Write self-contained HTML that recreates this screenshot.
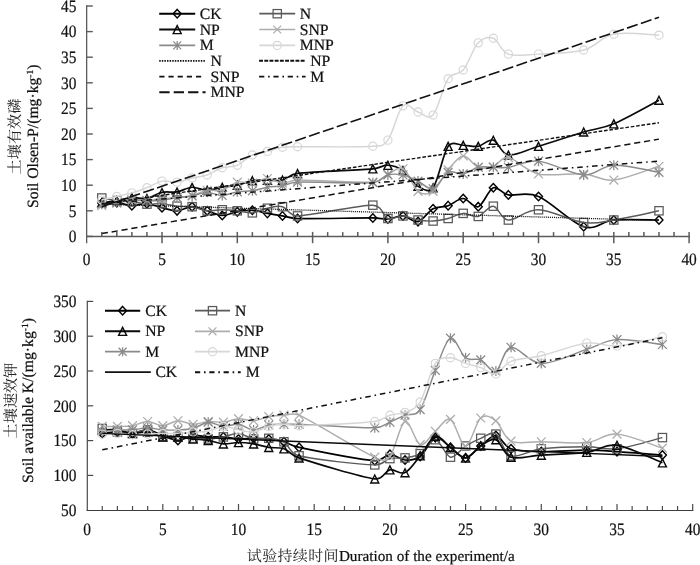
<!DOCTYPE html>
<html lang="zh">
<head>
<meta charset="utf-8">
<title>Soil Olsen-P and available K</title>
<style>
html,body{margin:0;padding:0;background:#fff;}
body{width:700px;height:565px;overflow:hidden;}
svg{display:block;will-change:transform;}
text{font-family:"Liberation Serif","Noto Serif CJK SC",serif;font-size:15.7px;fill:#111;text-rendering:geometricPrecision;stroke:#111;stroke-width:0.22px;}
.cn{font-family:"Noto Serif CJK SC","Liberation Serif",serif;font-size:14.4px;letter-spacing:1px;fill:#222;stroke:none;}
.sup{font-size:9.5px;}
text.tk{font-size:17.4px;}
#titles text{font-size:15.7px;}
#titles text.xt{font-size:15.3px;}
#titles text.cn{font-size:15.2px;letter-spacing:0;}
#titles text.xt{font-size:15.2px;}
#titles text.xt .cn{font-size:15px;letter-spacing:0.35px;}
</style>
</head>
<body>
<svg width="700" height="565" viewBox="0 0 700 565">
<rect width="700" height="565" fill="#fff"/>
<g id="top">
<path d="M101.76 203.12C104.27 203.03 111.8 202.18 116.82 202.61C121.84 203.03 126.86 205.51 131.88 205.68C136.9 205.85 141.92 203.29 146.94 203.63C151.96 203.97 156.98 206.53 162 207.73C167.02 208.92 172.04 210.97 177.06 210.8C182.08 210.63 187.1 206.7 192.12 206.7C197.14 206.7 202.16 209.35 207.18 210.8C212.2 212.25 217.22 215.24 222.24 215.41C227.26 215.58 232.28 212.68 237.3 211.82C242.32 210.97 247.34 210.03 252.36 210.29C257.38 210.54 262.4 212.42 267.42 213.36C272.44 214.3 277.46 215.07 282.48 215.92C287.5 216.77 289.9 218.31 297.54 218.48C312.6 218.82 357.78 217.88 372.84 217.97C380.39 218.01 382.88 219.33 387.9 218.99C392.92 218.65 397.94 215.49 402.96 215.92C407.98 216.35 413 222.75 418.02 221.55C423.04 220.36 428.06 211.4 433.08 208.75C438.1 206.11 443.12 207.39 448.14 205.68C453.16 203.97 458.18 198.34 463.2 198.51C468.22 198.68 473.24 208.5 478.26 206.7C483.28 204.91 488.3 189.72 493.32 187.76C498.34 185.8 500.85 193.48 508.38 194.93C515.91 196.38 525.95 191.17 538.5 196.46C551.05 201.75 571.13 222.75 583.68 226.67C596.23 230.6 601.25 221.13 613.8 220.02C626.35 218.91 651.45 220.02 658.98 220.02" fill="none" stroke="#000000" stroke-width="1.7" stroke-linejoin="round"/>
<path d="M101.76 198.82L105.76 203.12L101.76 207.42L97.76 203.12Z" fill="none" stroke="#000000" stroke-width="1.4"/>
<path d="M116.82 198.31L120.82 202.61L116.82 206.91L112.82 202.61Z" fill="none" stroke="#000000" stroke-width="1.4"/>
<path d="M131.88 201.38L135.88 205.68L131.88 209.98L127.88 205.68Z" fill="none" stroke="#000000" stroke-width="1.4"/>
<path d="M146.94 199.33L150.94 203.63L146.94 207.93L142.94 203.63Z" fill="none" stroke="#000000" stroke-width="1.4"/>
<path d="M162 203.43L166 207.73L162 212.03L158 207.73Z" fill="none" stroke="#000000" stroke-width="1.4"/>
<path d="M177.06 206.5L181.06 210.8L177.06 215.1L173.06 210.8Z" fill="none" stroke="#000000" stroke-width="1.4"/>
<path d="M192.12 202.4L196.12 206.7L192.12 211L188.12 206.7Z" fill="none" stroke="#000000" stroke-width="1.4"/>
<path d="M207.18 206.5L211.18 210.8L207.18 215.1L203.18 210.8Z" fill="none" stroke="#000000" stroke-width="1.4"/>
<path d="M222.24 211.11L226.24 215.41L222.24 219.71L218.24 215.41Z" fill="none" stroke="#000000" stroke-width="1.4"/>
<path d="M237.3 207.52L241.3 211.82L237.3 216.12L233.3 211.82Z" fill="none" stroke="#000000" stroke-width="1.4"/>
<path d="M252.36 205.99L256.36 210.29L252.36 214.59L248.36 210.29Z" fill="none" stroke="#000000" stroke-width="1.4"/>
<path d="M267.42 209.06L271.42 213.36L267.42 217.66L263.42 213.36Z" fill="none" stroke="#000000" stroke-width="1.4"/>
<path d="M282.48 211.62L286.48 215.92L282.48 220.22L278.48 215.92Z" fill="none" stroke="#000000" stroke-width="1.4"/>
<path d="M297.54 214.18L301.54 218.48L297.54 222.78L293.54 218.48Z" fill="none" stroke="#000000" stroke-width="1.4"/>
<path d="M372.84 213.67L376.84 217.97L372.84 222.27L368.84 217.97Z" fill="none" stroke="#000000" stroke-width="1.4"/>
<path d="M387.9 214.69L391.9 218.99L387.9 223.29L383.9 218.99Z" fill="none" stroke="#000000" stroke-width="1.4"/>
<path d="M402.96 211.62L406.96 215.92L402.96 220.22L398.96 215.92Z" fill="none" stroke="#000000" stroke-width="1.4"/>
<path d="M418.02 217.25L422.02 221.55L418.02 225.85L414.02 221.55Z" fill="none" stroke="#000000" stroke-width="1.4"/>
<path d="M433.08 204.45L437.08 208.75L433.08 213.05L429.08 208.75Z" fill="none" stroke="#000000" stroke-width="1.4"/>
<path d="M448.14 201.38L452.14 205.68L448.14 209.98L444.14 205.68Z" fill="none" stroke="#000000" stroke-width="1.4"/>
<path d="M463.2 194.21L467.2 198.51L463.2 202.81L459.2 198.51Z" fill="none" stroke="#000000" stroke-width="1.4"/>
<path d="M478.26 202.4L482.26 206.7L478.26 211L474.26 206.7Z" fill="none" stroke="#000000" stroke-width="1.4"/>
<path d="M493.32 183.46L497.32 187.76L493.32 192.06L489.32 187.76Z" fill="none" stroke="#000000" stroke-width="1.4"/>
<path d="M508.38 190.63L512.38 194.93L508.38 199.23L504.38 194.93Z" fill="none" stroke="#000000" stroke-width="1.4"/>
<path d="M538.5 192.16L542.5 196.46L538.5 200.76L534.5 196.46Z" fill="none" stroke="#000000" stroke-width="1.4"/>
<path d="M583.68 222.37L587.68 226.67L583.68 230.97L579.68 226.67Z" fill="none" stroke="#000000" stroke-width="1.4"/>
<path d="M613.8 215.72L617.8 220.02L613.8 224.32L609.8 220.02Z" fill="none" stroke="#000000" stroke-width="1.4"/>
<path d="M658.98 215.72L662.98 220.02L658.98 224.32L654.98 220.02Z" fill="none" stroke="#000000" stroke-width="1.4"/>
<path d="M101.76 198C104.27 198.43 111.8 199.96 116.82 200.56C121.84 201.16 126.86 200.99 131.88 201.58C136.9 202.18 141.92 203.8 146.94 204.14C151.96 204.49 156.98 203.29 162 203.63C167.02 203.97 172.04 205.68 177.06 206.19C182.08 206.7 187.1 205.94 192.12 206.7C197.14 207.47 202.16 210.29 207.18 210.8C212.2 211.31 217.22 209.78 222.24 209.78C227.26 209.78 232.28 210.29 237.3 210.8C242.32 211.31 247.34 213.27 252.36 212.85C257.38 212.42 262.4 209.26 267.42 208.24C272.44 207.22 277.46 205.42 282.48 206.7C287.5 207.98 288.8 216.07 297.54 215.92C312.6 215.66 357.78 204.74 372.84 205.17C382.79 205.45 382.88 216.69 387.9 218.48C392.92 220.27 397.94 215.66 402.96 215.92C407.98 216.18 413 219.16 418.02 220.02C423.04 220.87 428.06 221.3 433.08 221.04C438.1 220.78 443.12 219.76 448.14 218.48C453.16 217.2 458.18 213.7 463.2 213.36C468.22 213.02 473.24 217.63 478.26 216.43C483.28 215.24 488.3 205.59 493.32 206.19C498.34 206.79 500.85 219.42 508.38 220.02C515.91 220.61 525.95 209.35 538.5 209.78C551.05 210.2 571.13 220.87 583.68 222.58C596.23 224.28 601.25 221.98 613.8 220.02C626.35 218.05 651.45 212.34 658.98 210.8" fill="none" stroke="#5a5a5a" stroke-width="1.45" stroke-linejoin="round"/>
<rect x="97.61" y="193.85" width="8.3" height="8.3" fill="none" stroke="#5a5a5a" stroke-width="1.25"/>
<rect x="112.67" y="196.41" width="8.3" height="8.3" fill="none" stroke="#5a5a5a" stroke-width="1.25"/>
<rect x="127.73" y="197.43" width="8.3" height="8.3" fill="none" stroke="#5a5a5a" stroke-width="1.25"/>
<rect x="142.79" y="199.99" width="8.3" height="8.3" fill="none" stroke="#5a5a5a" stroke-width="1.25"/>
<rect x="157.85" y="199.48" width="8.3" height="8.3" fill="none" stroke="#5a5a5a" stroke-width="1.25"/>
<rect x="172.91" y="202.04" width="8.3" height="8.3" fill="none" stroke="#5a5a5a" stroke-width="1.25"/>
<rect x="187.97" y="202.55" width="8.3" height="8.3" fill="none" stroke="#5a5a5a" stroke-width="1.25"/>
<rect x="203.03" y="206.65" width="8.3" height="8.3" fill="none" stroke="#5a5a5a" stroke-width="1.25"/>
<rect x="218.09" y="205.63" width="8.3" height="8.3" fill="none" stroke="#5a5a5a" stroke-width="1.25"/>
<rect x="233.15" y="206.65" width="8.3" height="8.3" fill="none" stroke="#5a5a5a" stroke-width="1.25"/>
<rect x="248.21" y="208.7" width="8.3" height="8.3" fill="none" stroke="#5a5a5a" stroke-width="1.25"/>
<rect x="263.27" y="204.09" width="8.3" height="8.3" fill="none" stroke="#5a5a5a" stroke-width="1.25"/>
<rect x="278.33" y="202.55" width="8.3" height="8.3" fill="none" stroke="#5a5a5a" stroke-width="1.25"/>
<rect x="293.39" y="211.77" width="8.3" height="8.3" fill="none" stroke="#5a5a5a" stroke-width="1.25"/>
<rect x="368.69" y="201.02" width="8.3" height="8.3" fill="none" stroke="#5a5a5a" stroke-width="1.25"/>
<rect x="383.75" y="214.33" width="8.3" height="8.3" fill="none" stroke="#5a5a5a" stroke-width="1.25"/>
<rect x="398.81" y="211.77" width="8.3" height="8.3" fill="none" stroke="#5a5a5a" stroke-width="1.25"/>
<rect x="413.87" y="215.87" width="8.3" height="8.3" fill="none" stroke="#5a5a5a" stroke-width="1.25"/>
<rect x="428.93" y="216.89" width="8.3" height="8.3" fill="none" stroke="#5a5a5a" stroke-width="1.25"/>
<rect x="443.99" y="214.33" width="8.3" height="8.3" fill="none" stroke="#5a5a5a" stroke-width="1.25"/>
<rect x="459.05" y="209.21" width="8.3" height="8.3" fill="none" stroke="#5a5a5a" stroke-width="1.25"/>
<rect x="474.11" y="212.28" width="8.3" height="8.3" fill="none" stroke="#5a5a5a" stroke-width="1.25"/>
<rect x="489.17" y="202.04" width="8.3" height="8.3" fill="none" stroke="#5a5a5a" stroke-width="1.25"/>
<rect x="504.23" y="215.87" width="8.3" height="8.3" fill="none" stroke="#5a5a5a" stroke-width="1.25"/>
<rect x="534.35" y="205.63" width="8.3" height="8.3" fill="none" stroke="#5a5a5a" stroke-width="1.25"/>
<rect x="579.53" y="218.43" width="8.3" height="8.3" fill="none" stroke="#5a5a5a" stroke-width="1.25"/>
<rect x="609.65" y="215.87" width="8.3" height="8.3" fill="none" stroke="#5a5a5a" stroke-width="1.25"/>
<rect x="654.83" y="206.65" width="8.3" height="8.3" fill="none" stroke="#5a5a5a" stroke-width="1.25"/>
<path d="M101.76 202.61C104.27 202.27 111.8 201.41 116.82 200.56C121.84 199.71 126.86 197.83 131.88 197.49C136.9 197.15 141.92 199.37 146.94 198.51C151.96 197.66 156.98 193.48 162 192.37C167.02 191.26 172.04 192.71 177.06 191.86C182.08 191 187.1 187.5 192.12 187.25C197.14 186.99 202.16 190.32 207.18 190.32C212.2 190.32 217.22 188.1 222.24 187.25C227.26 186.39 232.28 186.31 237.3 185.2C242.32 184.09 247.34 181.45 252.36 180.59C257.38 179.74 262.4 180.17 267.42 180.08C272.44 179.99 277.46 181.19 282.48 180.08C287.5 178.97 289.32 174.45 297.54 173.42C312.6 171.55 357.78 170.18 372.84 168.82C380.57 168.12 382.88 164.98 387.9 165.23C392.92 165.49 397.94 166.85 402.96 170.35C407.98 173.85 413 183.32 418.02 186.22C423.04 189.13 428.77 193.47 433.08 187.76C438.1 181.1 443.12 153.37 448.14 146.29C452.43 140.23 458.18 145.26 463.2 145.26C468.22 145.26 473.24 147.14 478.26 146.29C483.28 145.43 488.3 138.69 493.32 140.14C498.34 141.59 500.85 153.97 508.38 154.99C515.91 156.02 525.95 150.13 538.5 146.29C551.05 142.45 571.13 135.71 583.68 131.95C596.23 128.2 601.25 129.05 613.8 123.76C626.35 118.47 651.45 104.13 658.98 100.21" fill="none" stroke="#0a0a0a" stroke-width="1.7" stroke-linejoin="round"/>
<path d="M101.76 198.71L105.76 206.71L97.76 206.71Z" fill="none" stroke="#0a0a0a" stroke-width="1.4"/>
<path d="M116.82 196.66L120.82 204.66L112.82 204.66Z" fill="none" stroke="#0a0a0a" stroke-width="1.4"/>
<path d="M131.88 193.59L135.88 201.59L127.88 201.59Z" fill="none" stroke="#0a0a0a" stroke-width="1.4"/>
<path d="M146.94 194.61L150.94 202.61L142.94 202.61Z" fill="none" stroke="#0a0a0a" stroke-width="1.4"/>
<path d="M162 188.47L166 196.47L158 196.47Z" fill="none" stroke="#0a0a0a" stroke-width="1.4"/>
<path d="M177.06 187.96L181.06 195.96L173.06 195.96Z" fill="none" stroke="#0a0a0a" stroke-width="1.4"/>
<path d="M192.12 183.35L196.12 191.35L188.12 191.35Z" fill="none" stroke="#0a0a0a" stroke-width="1.4"/>
<path d="M207.18 186.42L211.18 194.42L203.18 194.42Z" fill="none" stroke="#0a0a0a" stroke-width="1.4"/>
<path d="M222.24 183.35L226.24 191.35L218.24 191.35Z" fill="none" stroke="#0a0a0a" stroke-width="1.4"/>
<path d="M237.3 181.3L241.3 189.3L233.3 189.3Z" fill="none" stroke="#0a0a0a" stroke-width="1.4"/>
<path d="M252.36 176.69L256.36 184.69L248.36 184.69Z" fill="none" stroke="#0a0a0a" stroke-width="1.4"/>
<path d="M267.42 176.18L271.42 184.18L263.42 184.18Z" fill="none" stroke="#0a0a0a" stroke-width="1.4"/>
<path d="M282.48 176.18L286.48 184.18L278.48 184.18Z" fill="none" stroke="#0a0a0a" stroke-width="1.4"/>
<path d="M297.54 169.52L301.54 177.52L293.54 177.52Z" fill="none" stroke="#0a0a0a" stroke-width="1.4"/>
<path d="M372.84 164.92L376.84 172.92L368.84 172.92Z" fill="none" stroke="#0a0a0a" stroke-width="1.4"/>
<path d="M387.9 161.33L391.9 169.33L383.9 169.33Z" fill="none" stroke="#0a0a0a" stroke-width="1.4"/>
<path d="M402.96 166.45L406.96 174.45L398.96 174.45Z" fill="none" stroke="#0a0a0a" stroke-width="1.4"/>
<path d="M418.02 182.32L422.02 190.32L414.02 190.32Z" fill="none" stroke="#0a0a0a" stroke-width="1.4"/>
<path d="M433.08 183.86L437.08 191.86L429.08 191.86Z" fill="none" stroke="#0a0a0a" stroke-width="1.4"/>
<path d="M448.14 142.39L452.14 150.39L444.14 150.39Z" fill="none" stroke="#0a0a0a" stroke-width="1.4"/>
<path d="M463.2 141.36L467.2 149.36L459.2 149.36Z" fill="none" stroke="#0a0a0a" stroke-width="1.4"/>
<path d="M478.26 142.39L482.26 150.39L474.26 150.39Z" fill="none" stroke="#0a0a0a" stroke-width="1.4"/>
<path d="M493.32 136.24L497.32 144.24L489.32 144.24Z" fill="none" stroke="#0a0a0a" stroke-width="1.4"/>
<path d="M508.38 151.09L512.38 159.09L504.38 159.09Z" fill="none" stroke="#0a0a0a" stroke-width="1.4"/>
<path d="M538.5 142.39L542.5 150.39L534.5 150.39Z" fill="none" stroke="#0a0a0a" stroke-width="1.4"/>
<path d="M583.68 128.05L587.68 136.05L579.68 136.05Z" fill="none" stroke="#0a0a0a" stroke-width="1.4"/>
<path d="M613.8 119.86L617.8 127.86L609.8 127.86Z" fill="none" stroke="#0a0a0a" stroke-width="1.4"/>
<path d="M658.98 96.31L662.98 104.31L654.98 104.31Z" fill="none" stroke="#0a0a0a" stroke-width="1.4"/>
<path d="M101.76 205.68C104.27 205.25 111.8 204.14 116.82 203.12C121.84 202.1 126.86 199.96 131.88 199.54C136.9 199.11 141.92 200.73 146.94 200.56C151.96 200.39 156.98 198.94 162 198.51C167.02 198.09 172.04 198.51 177.06 198C182.08 197.49 187.1 196.72 192.12 195.44C197.14 194.16 202.16 191.17 207.18 190.32C212.2 189.47 217.22 191.69 222.24 190.32C227.26 188.95 232.28 183.32 237.3 182.13C242.32 180.93 247.34 183.75 252.36 183.15C257.38 182.55 262.4 178.54 267.42 178.54C272.44 178.54 277.46 182.9 282.48 183.15C287.5 183.41 289.86 180.17 297.54 180.08C312.6 179.91 357.78 183.07 372.84 182.13C381.29 181.6 382.88 176.67 387.9 174.45C392.92 172.23 397.94 166 402.96 168.82C407.98 171.63 413 187.59 418.02 191.34C423.04 195.1 428.06 194.93 433.08 191.34C438.1 187.76 443.12 175.73 448.14 169.84C453.16 163.95 458.18 156.44 463.2 156.02C468.22 155.59 473.24 165.49 478.26 167.28C483.28 169.07 488.3 168.39 493.32 166.77C498.34 165.15 500.85 156.36 508.38 157.55C515.91 158.75 525.95 171.21 538.5 173.94C551.05 176.67 571.13 172.91 583.68 173.94C596.23 174.96 601.25 181.36 613.8 180.08C626.35 178.8 651.45 168.56 658.98 166.26" fill="none" stroke="#adadad" stroke-width="1.45" stroke-linejoin="round"/>
<path d="M97.36 201.28L106.16 210.08M97.36 210.08L106.16 201.28" fill="none" stroke="#adadad" stroke-width="1.25"/>
<path d="M112.42 198.72L121.22 207.52M112.42 207.52L121.22 198.72" fill="none" stroke="#adadad" stroke-width="1.25"/>
<path d="M127.48 195.14L136.28 203.94M127.48 203.94L136.28 195.14" fill="none" stroke="#adadad" stroke-width="1.25"/>
<path d="M142.54 196.16L151.34 204.96M142.54 204.96L151.34 196.16" fill="none" stroke="#adadad" stroke-width="1.25"/>
<path d="M157.6 194.11L166.4 202.91M157.6 202.91L166.4 194.11" fill="none" stroke="#adadad" stroke-width="1.25"/>
<path d="M172.66 193.6L181.46 202.4M172.66 202.4L181.46 193.6" fill="none" stroke="#adadad" stroke-width="1.25"/>
<path d="M187.72 191.04L196.52 199.84M187.72 199.84L196.52 191.04" fill="none" stroke="#adadad" stroke-width="1.25"/>
<path d="M202.78 185.92L211.58 194.72M202.78 194.72L211.58 185.92" fill="none" stroke="#adadad" stroke-width="1.25"/>
<path d="M217.84 185.92L226.64 194.72M217.84 194.72L226.64 185.92" fill="none" stroke="#adadad" stroke-width="1.25"/>
<path d="M232.9 177.73L241.7 186.53M232.9 186.53L241.7 177.73" fill="none" stroke="#adadad" stroke-width="1.25"/>
<path d="M247.96 178.75L256.76 187.55M247.96 187.55L256.76 178.75" fill="none" stroke="#adadad" stroke-width="1.25"/>
<path d="M263.02 174.14L271.82 182.94M263.02 182.94L271.82 174.14" fill="none" stroke="#adadad" stroke-width="1.25"/>
<path d="M278.08 178.75L286.88 187.55M278.08 187.55L286.88 178.75" fill="none" stroke="#adadad" stroke-width="1.25"/>
<path d="M293.14 175.68L301.94 184.48M293.14 184.48L301.94 175.68" fill="none" stroke="#adadad" stroke-width="1.25"/>
<path d="M368.44 177.73L377.24 186.53M368.44 186.53L377.24 177.73" fill="none" stroke="#adadad" stroke-width="1.25"/>
<path d="M383.5 170.05L392.3 178.85M383.5 178.85L392.3 170.05" fill="none" stroke="#adadad" stroke-width="1.25"/>
<path d="M398.56 164.42L407.36 173.22M398.56 173.22L407.36 164.42" fill="none" stroke="#adadad" stroke-width="1.25"/>
<path d="M413.62 186.94L422.42 195.74M413.62 195.74L422.42 186.94" fill="none" stroke="#adadad" stroke-width="1.25"/>
<path d="M428.68 186.94L437.48 195.74M428.68 195.74L437.48 186.94" fill="none" stroke="#adadad" stroke-width="1.25"/>
<path d="M443.74 165.44L452.54 174.24M443.74 174.24L452.54 165.44" fill="none" stroke="#adadad" stroke-width="1.25"/>
<path d="M458.8 151.62L467.6 160.42M458.8 160.42L467.6 151.62" fill="none" stroke="#adadad" stroke-width="1.25"/>
<path d="M473.86 162.88L482.66 171.68M473.86 171.68L482.66 162.88" fill="none" stroke="#adadad" stroke-width="1.25"/>
<path d="M488.92 162.37L497.72 171.17M488.92 171.17L497.72 162.37" fill="none" stroke="#adadad" stroke-width="1.25"/>
<path d="M503.98 153.15L512.78 161.95M503.98 161.95L512.78 153.15" fill="none" stroke="#adadad" stroke-width="1.25"/>
<path d="M534.1 169.54L542.9 178.34M534.1 178.34L542.9 169.54" fill="none" stroke="#adadad" stroke-width="1.25"/>
<path d="M579.28 169.54L588.08 178.34M579.28 178.34L588.08 169.54" fill="none" stroke="#adadad" stroke-width="1.25"/>
<path d="M609.4 175.68L618.2 184.48M609.4 184.48L618.2 175.68" fill="none" stroke="#adadad" stroke-width="1.25"/>
<path d="M654.58 161.86L663.38 170.66M654.58 170.66L663.38 161.86" fill="none" stroke="#adadad" stroke-width="1.25"/>
<path d="M101.76 204.14C104.27 203.89 111.8 203.21 116.82 202.61C121.84 202.01 126.86 200.9 131.88 200.56C136.9 200.22 141.92 200.56 146.94 200.56C151.96 200.56 156.98 201.07 162 200.56C167.02 200.05 172.04 198.26 177.06 197.49C182.08 196.72 187.1 196.81 192.12 195.95C197.14 195.1 202.16 192.45 207.18 192.37C212.2 192.28 217.22 195.53 222.24 195.44C227.26 195.35 232.28 192.62 237.3 191.86C242.32 191.09 247.34 191.6 252.36 190.83C257.38 190.06 262.4 188.1 267.42 187.25C272.44 186.39 277.46 186.57 282.48 185.71C287.5 184.86 289.8 182.39 297.54 182.13C312.6 181.62 357.78 183.83 372.84 182.64C381.29 181.97 382.88 176.24 387.9 174.96C392.92 173.68 397.94 173.94 402.96 174.96C407.98 175.98 413 178.8 418.02 181.1C423.04 183.41 428.06 190.23 433.08 188.78C438.1 187.33 443.12 174.87 448.14 172.4C453.16 169.93 458.18 174.79 463.2 173.94C468.22 173.08 473.24 168.39 478.26 167.28C483.28 166.17 488.3 167.28 493.32 167.28C498.34 167.28 500.85 168.3 508.38 167.28C515.91 166.26 525.95 159.86 538.5 161.14C551.05 162.42 571.13 174.28 583.68 174.96C596.23 175.64 601.25 165.66 613.8 165.23C626.35 164.81 651.45 171.21 658.98 172.4" fill="none" stroke="#8a8a8a" stroke-width="1.45" stroke-linejoin="round"/>
<path d="M97.36 199.74L106.16 208.54M97.36 208.54L106.16 199.74M101.76 199.14L101.76 209.14" fill="none" stroke="#8a8a8a" stroke-width="1.25"/>
<path d="M112.42 198.21L121.22 207.01M112.42 207.01L121.22 198.21M116.82 197.61L116.82 207.61" fill="none" stroke="#8a8a8a" stroke-width="1.25"/>
<path d="M127.48 196.16L136.28 204.96M127.48 204.96L136.28 196.16M131.88 195.56L131.88 205.56" fill="none" stroke="#8a8a8a" stroke-width="1.25"/>
<path d="M142.54 196.16L151.34 204.96M142.54 204.96L151.34 196.16M146.94 195.56L146.94 205.56" fill="none" stroke="#8a8a8a" stroke-width="1.25"/>
<path d="M157.6 196.16L166.4 204.96M157.6 204.96L166.4 196.16M162 195.56L162 205.56" fill="none" stroke="#8a8a8a" stroke-width="1.25"/>
<path d="M172.66 193.09L181.46 201.89M172.66 201.89L181.46 193.09M177.06 192.49L177.06 202.49" fill="none" stroke="#8a8a8a" stroke-width="1.25"/>
<path d="M187.72 191.55L196.52 200.35M187.72 200.35L196.52 191.55M192.12 190.95L192.12 200.95" fill="none" stroke="#8a8a8a" stroke-width="1.25"/>
<path d="M202.78 187.97L211.58 196.77M202.78 196.77L211.58 187.97M207.18 187.37L207.18 197.37" fill="none" stroke="#8a8a8a" stroke-width="1.25"/>
<path d="M217.84 191.04L226.64 199.84M217.84 199.84L226.64 191.04M222.24 190.44L222.24 200.44" fill="none" stroke="#8a8a8a" stroke-width="1.25"/>
<path d="M232.9 187.46L241.7 196.26M232.9 196.26L241.7 187.46M237.3 186.86L237.3 196.86" fill="none" stroke="#8a8a8a" stroke-width="1.25"/>
<path d="M247.96 186.43L256.76 195.23M247.96 195.23L256.76 186.43M252.36 185.83L252.36 195.83" fill="none" stroke="#8a8a8a" stroke-width="1.25"/>
<path d="M263.02 182.85L271.82 191.65M263.02 191.65L271.82 182.85M267.42 182.25L267.42 192.25" fill="none" stroke="#8a8a8a" stroke-width="1.25"/>
<path d="M278.08 181.31L286.88 190.11M278.08 190.11L286.88 181.31M282.48 180.71L282.48 190.71" fill="none" stroke="#8a8a8a" stroke-width="1.25"/>
<path d="M293.14 177.73L301.94 186.53M293.14 186.53L301.94 177.73M297.54 177.13L297.54 187.13" fill="none" stroke="#8a8a8a" stroke-width="1.25"/>
<path d="M368.44 178.24L377.24 187.04M368.44 187.04L377.24 178.24M372.84 177.64L372.84 187.64" fill="none" stroke="#8a8a8a" stroke-width="1.25"/>
<path d="M383.5 170.56L392.3 179.36M383.5 179.36L392.3 170.56M387.9 169.96L387.9 179.96" fill="none" stroke="#8a8a8a" stroke-width="1.25"/>
<path d="M398.56 170.56L407.36 179.36M398.56 179.36L407.36 170.56M402.96 169.96L402.96 179.96" fill="none" stroke="#8a8a8a" stroke-width="1.25"/>
<path d="M413.62 176.7L422.42 185.5M413.62 185.5L422.42 176.7M418.02 176.1L418.02 186.1" fill="none" stroke="#8a8a8a" stroke-width="1.25"/>
<path d="M428.68 184.38L437.48 193.18M428.68 193.18L437.48 184.38M433.08 183.78L433.08 193.78" fill="none" stroke="#8a8a8a" stroke-width="1.25"/>
<path d="M443.74 168L452.54 176.8M443.74 176.8L452.54 168M448.14 167.4L448.14 177.4" fill="none" stroke="#8a8a8a" stroke-width="1.25"/>
<path d="M458.8 169.54L467.6 178.34M458.8 178.34L467.6 169.54M463.2 168.94L463.2 178.94" fill="none" stroke="#8a8a8a" stroke-width="1.25"/>
<path d="M473.86 162.88L482.66 171.68M473.86 171.68L482.66 162.88M478.26 162.28L478.26 172.28" fill="none" stroke="#8a8a8a" stroke-width="1.25"/>
<path d="M488.92 162.88L497.72 171.68M488.92 171.68L497.72 162.88M493.32 162.28L493.32 172.28" fill="none" stroke="#8a8a8a" stroke-width="1.25"/>
<path d="M503.98 162.88L512.78 171.68M503.98 171.68L512.78 162.88M508.38 162.28L508.38 172.28" fill="none" stroke="#8a8a8a" stroke-width="1.25"/>
<path d="M534.1 156.74L542.9 165.54M534.1 165.54L542.9 156.74M538.5 156.14L538.5 166.14" fill="none" stroke="#8a8a8a" stroke-width="1.25"/>
<path d="M579.28 170.56L588.08 179.36M579.28 179.36L588.08 170.56M583.68 169.96L583.68 179.96" fill="none" stroke="#8a8a8a" stroke-width="1.25"/>
<path d="M609.4 160.83L618.2 169.63M609.4 169.63L618.2 160.83M613.8 160.23L613.8 170.23" fill="none" stroke="#8a8a8a" stroke-width="1.25"/>
<path d="M654.58 168L663.38 176.8M654.58 176.8L663.38 168M658.98 167.4L658.98 177.4" fill="none" stroke="#8a8a8a" stroke-width="1.25"/>
<path d="M101.76 200.05C104.27 199.45 111.8 197.66 116.82 196.46C121.84 195.27 126.86 194.33 131.88 192.88C136.9 191.43 141.92 189.72 146.94 187.76C151.96 185.8 156.98 182.04 162 181.1C167.02 180.17 172.04 182.64 177.06 182.13C182.08 181.62 187.1 179.23 192.12 178.03C197.14 176.84 202.16 176.67 207.18 174.96C212.2 173.25 217.22 169.41 222.24 167.79C227.26 166.17 232.28 167.37 237.3 165.23C242.32 163.1 247.34 157.3 252.36 154.99C257.38 152.69 262.4 152.69 267.42 151.41C272.44 150.13 277.46 148.08 282.48 147.31C287.5 146.54 290.01 146.89 297.54 146.8C312.6 146.63 357.78 147.4 372.84 146.29C380.97 145.69 382.88 146.89 387.9 140.14C392.92 133.4 397.94 110.53 402.96 105.84C407.98 101.15 413 110.45 418.02 111.98C423.04 113.52 428.18 120.47 433.08 115.06C438.1 109.51 443.12 86.21 448.14 78.7C453.16 71.19 458.18 75.97 463.2 70C468.22 64.03 473.24 48.15 478.26 42.86C483.28 37.57 488.3 36.38 493.32 38.26C498.34 40.13 500.85 51.48 508.38 54.13C515.91 56.77 525.95 54.81 538.5 54.13C551.05 53.45 571.13 53.36 583.68 50.03C596.23 46.7 601.25 36.63 613.8 34.16C626.35 31.69 651.45 35.01 658.98 35.18" fill="none" stroke="#d6d6d6" stroke-width="1.45" stroke-linejoin="round"/>
<circle cx="101.76" cy="200.05" r="4.1" fill="none" stroke="#d6d6d6" stroke-width="1.15"/>
<circle cx="116.82" cy="196.46" r="4.1" fill="none" stroke="#d6d6d6" stroke-width="1.15"/>
<circle cx="131.88" cy="192.88" r="4.1" fill="none" stroke="#d6d6d6" stroke-width="1.15"/>
<circle cx="146.94" cy="187.76" r="4.1" fill="none" stroke="#d6d6d6" stroke-width="1.15"/>
<circle cx="162" cy="181.1" r="4.1" fill="none" stroke="#d6d6d6" stroke-width="1.15"/>
<circle cx="177.06" cy="182.13" r="4.1" fill="none" stroke="#d6d6d6" stroke-width="1.15"/>
<circle cx="192.12" cy="178.03" r="4.1" fill="none" stroke="#d6d6d6" stroke-width="1.15"/>
<circle cx="207.18" cy="174.96" r="4.1" fill="none" stroke="#d6d6d6" stroke-width="1.15"/>
<circle cx="222.24" cy="167.79" r="4.1" fill="none" stroke="#d6d6d6" stroke-width="1.15"/>
<circle cx="237.3" cy="165.23" r="4.1" fill="none" stroke="#d6d6d6" stroke-width="1.15"/>
<circle cx="252.36" cy="154.99" r="4.1" fill="none" stroke="#d6d6d6" stroke-width="1.15"/>
<circle cx="267.42" cy="151.41" r="4.1" fill="none" stroke="#d6d6d6" stroke-width="1.15"/>
<circle cx="282.48" cy="147.31" r="4.1" fill="none" stroke="#d6d6d6" stroke-width="1.15"/>
<circle cx="297.54" cy="146.8" r="4.1" fill="none" stroke="#d6d6d6" stroke-width="1.15"/>
<circle cx="372.84" cy="146.29" r="4.1" fill="none" stroke="#d6d6d6" stroke-width="1.15"/>
<circle cx="387.9" cy="140.14" r="4.1" fill="none" stroke="#d6d6d6" stroke-width="1.15"/>
<circle cx="402.96" cy="105.84" r="4.1" fill="none" stroke="#d6d6d6" stroke-width="1.15"/>
<circle cx="418.02" cy="111.98" r="4.1" fill="none" stroke="#d6d6d6" stroke-width="1.15"/>
<circle cx="433.08" cy="115.06" r="4.1" fill="none" stroke="#d6d6d6" stroke-width="1.15"/>
<circle cx="448.14" cy="78.7" r="4.1" fill="none" stroke="#d6d6d6" stroke-width="1.15"/>
<circle cx="463.2" cy="70" r="4.1" fill="none" stroke="#d6d6d6" stroke-width="1.15"/>
<circle cx="478.26" cy="42.86" r="4.1" fill="none" stroke="#d6d6d6" stroke-width="1.15"/>
<circle cx="493.32" cy="38.26" r="4.1" fill="none" stroke="#d6d6d6" stroke-width="1.15"/>
<circle cx="508.38" cy="54.13" r="4.1" fill="none" stroke="#d6d6d6" stroke-width="1.15"/>
<circle cx="538.5" cy="54.13" r="4.1" fill="none" stroke="#d6d6d6" stroke-width="1.15"/>
<circle cx="583.68" cy="50.03" r="4.1" fill="none" stroke="#d6d6d6" stroke-width="1.15"/>
<circle cx="613.8" cy="34.16" r="4.1" fill="none" stroke="#d6d6d6" stroke-width="1.15"/>
<circle cx="658.98" cy="35.18" r="4.1" fill="none" stroke="#d6d6d6" stroke-width="1.15"/>
<line x1="101.76" y1="204.14" x2="658.98" y2="220.53" stroke="#111" stroke-width="1.3" stroke-dasharray="1.0 0.95"/>
<line x1="101.76" y1="204.14" x2="658.98" y2="122.74" stroke="#111" stroke-width="1.4" stroke-dasharray="3.6 1.8"/>
<line x1="101.76" y1="233.58" x2="658.98" y2="139.12" stroke="#111" stroke-width="1.5" stroke-dasharray="6.2 3.8"/>
<line x1="101.76" y1="203.63" x2="658.98" y2="161.14" stroke="#111" stroke-width="1.5" stroke-dasharray="5.6 3.9 1.6 3.8"/>
<line x1="101.76" y1="206.7" x2="658.98" y2="17.26" stroke="#111" stroke-width="1.6" stroke-dasharray="11.2 3.4"/>
<line x1="86.65" y1="5.3" x2="86.65" y2="243.3" stroke="#5b5b5b" stroke-width="1.3"/>
<line x1="86" y1="236.4" x2="689.8" y2="236.4" stroke="#5b5b5b" stroke-width="1.5"/>
<line x1="86.65" y1="236.4" x2="92.8" y2="236.4" stroke="#5b5b5b" stroke-width="1.4"/>
<line x1="86.65" y1="210.8" x2="92.8" y2="210.8" stroke="#5b5b5b" stroke-width="1.4"/>
<line x1="86.65" y1="185.2" x2="92.8" y2="185.2" stroke="#5b5b5b" stroke-width="1.4"/>
<line x1="86.65" y1="159.6" x2="92.8" y2="159.6" stroke="#5b5b5b" stroke-width="1.4"/>
<line x1="86.65" y1="134" x2="92.8" y2="134" stroke="#5b5b5b" stroke-width="1.4"/>
<line x1="86.65" y1="108.4" x2="92.8" y2="108.4" stroke="#5b5b5b" stroke-width="1.4"/>
<line x1="86.65" y1="82.8" x2="92.8" y2="82.8" stroke="#5b5b5b" stroke-width="1.4"/>
<line x1="86.65" y1="57.2" x2="92.8" y2="57.2" stroke="#5b5b5b" stroke-width="1.4"/>
<line x1="86.65" y1="31.6" x2="92.8" y2="31.6" stroke="#5b5b5b" stroke-width="1.4"/>
<line x1="86.65" y1="6" x2="92.8" y2="6" stroke="#5b5b5b" stroke-width="1.4"/>
<line x1="101.76" y1="232.1" x2="101.76" y2="236.4" stroke="#5b5b5b" stroke-width="1.5"/>
<line x1="116.82" y1="232.1" x2="116.82" y2="236.4" stroke="#5b5b5b" stroke-width="1.5"/>
<line x1="131.88" y1="232.1" x2="131.88" y2="236.4" stroke="#5b5b5b" stroke-width="1.5"/>
<line x1="146.94" y1="232.1" x2="146.94" y2="236.4" stroke="#5b5b5b" stroke-width="1.5"/>
<line x1="162" y1="231.9" x2="162" y2="243.2" stroke="#5b5b5b" stroke-width="1.5"/>
<line x1="177.06" y1="232.1" x2="177.06" y2="236.4" stroke="#5b5b5b" stroke-width="1.5"/>
<line x1="192.12" y1="232.1" x2="192.12" y2="236.4" stroke="#5b5b5b" stroke-width="1.5"/>
<line x1="207.18" y1="232.1" x2="207.18" y2="236.4" stroke="#5b5b5b" stroke-width="1.5"/>
<line x1="222.24" y1="232.1" x2="222.24" y2="236.4" stroke="#5b5b5b" stroke-width="1.5"/>
<line x1="237.3" y1="231.9" x2="237.3" y2="243.2" stroke="#5b5b5b" stroke-width="1.5"/>
<line x1="252.36" y1="232.1" x2="252.36" y2="236.4" stroke="#5b5b5b" stroke-width="1.5"/>
<line x1="267.42" y1="232.1" x2="267.42" y2="236.4" stroke="#5b5b5b" stroke-width="1.5"/>
<line x1="282.48" y1="232.1" x2="282.48" y2="236.4" stroke="#5b5b5b" stroke-width="1.5"/>
<line x1="297.54" y1="232.1" x2="297.54" y2="236.4" stroke="#5b5b5b" stroke-width="1.5"/>
<line x1="312.6" y1="231.9" x2="312.6" y2="243.2" stroke="#5b5b5b" stroke-width="1.5"/>
<line x1="327.66" y1="232.1" x2="327.66" y2="236.4" stroke="#5b5b5b" stroke-width="1.5"/>
<line x1="342.72" y1="232.1" x2="342.72" y2="236.4" stroke="#5b5b5b" stroke-width="1.5"/>
<line x1="357.78" y1="232.1" x2="357.78" y2="236.4" stroke="#5b5b5b" stroke-width="1.5"/>
<line x1="372.84" y1="232.1" x2="372.84" y2="236.4" stroke="#5b5b5b" stroke-width="1.5"/>
<line x1="387.9" y1="231.9" x2="387.9" y2="243.2" stroke="#5b5b5b" stroke-width="1.5"/>
<line x1="402.96" y1="232.1" x2="402.96" y2="236.4" stroke="#5b5b5b" stroke-width="1.5"/>
<line x1="418.02" y1="232.1" x2="418.02" y2="236.4" stroke="#5b5b5b" stroke-width="1.5"/>
<line x1="433.08" y1="232.1" x2="433.08" y2="236.4" stroke="#5b5b5b" stroke-width="1.5"/>
<line x1="448.14" y1="232.1" x2="448.14" y2="236.4" stroke="#5b5b5b" stroke-width="1.5"/>
<line x1="463.2" y1="231.9" x2="463.2" y2="243.2" stroke="#5b5b5b" stroke-width="1.5"/>
<line x1="478.26" y1="232.1" x2="478.26" y2="236.4" stroke="#5b5b5b" stroke-width="1.5"/>
<line x1="493.32" y1="232.1" x2="493.32" y2="236.4" stroke="#5b5b5b" stroke-width="1.5"/>
<line x1="508.38" y1="232.1" x2="508.38" y2="236.4" stroke="#5b5b5b" stroke-width="1.5"/>
<line x1="523.44" y1="232.1" x2="523.44" y2="236.4" stroke="#5b5b5b" stroke-width="1.5"/>
<line x1="538.5" y1="231.9" x2="538.5" y2="243.2" stroke="#5b5b5b" stroke-width="1.5"/>
<line x1="553.56" y1="232.1" x2="553.56" y2="236.4" stroke="#5b5b5b" stroke-width="1.5"/>
<line x1="568.62" y1="232.1" x2="568.62" y2="236.4" stroke="#5b5b5b" stroke-width="1.5"/>
<line x1="583.68" y1="232.1" x2="583.68" y2="236.4" stroke="#5b5b5b" stroke-width="1.5"/>
<line x1="598.74" y1="232.1" x2="598.74" y2="236.4" stroke="#5b5b5b" stroke-width="1.5"/>
<line x1="613.8" y1="231.9" x2="613.8" y2="243.2" stroke="#5b5b5b" stroke-width="1.5"/>
<line x1="628.86" y1="232.1" x2="628.86" y2="236.4" stroke="#5b5b5b" stroke-width="1.5"/>
<line x1="643.92" y1="232.1" x2="643.92" y2="236.4" stroke="#5b5b5b" stroke-width="1.5"/>
<line x1="658.98" y1="232.1" x2="658.98" y2="236.4" stroke="#5b5b5b" stroke-width="1.5"/>
<line x1="674.04" y1="232.1" x2="674.04" y2="236.4" stroke="#5b5b5b" stroke-width="1.5"/>
<line x1="689.1" y1="231.9" x2="689.1" y2="243.2" stroke="#5b5b5b" stroke-width="1.5"/>
<text class="tk" transform="translate(76.5 242.1) scale(0.885 1)" text-anchor="end">0</text>
<text class="tk" transform="translate(76.5 216.5) scale(0.885 1)" text-anchor="end">5</text>
<text class="tk" transform="translate(76.5 190.9) scale(0.885 1)" text-anchor="end">10</text>
<text class="tk" transform="translate(76.5 165.3) scale(0.885 1)" text-anchor="end">15</text>
<text class="tk" transform="translate(76.5 139.7) scale(0.885 1)" text-anchor="end">20</text>
<text class="tk" transform="translate(76.5 114.1) scale(0.885 1)" text-anchor="end">25</text>
<text class="tk" transform="translate(76.5 88.5) scale(0.885 1)" text-anchor="end">30</text>
<text class="tk" transform="translate(76.5 62.9) scale(0.885 1)" text-anchor="end">35</text>
<text class="tk" transform="translate(76.5 37.3) scale(0.885 1)" text-anchor="end">40</text>
<text class="tk" transform="translate(76.5 11.7) scale(0.885 1)" text-anchor="end">45</text>
<text class="tk" transform="translate(86.7 264.6) scale(0.885 1)" text-anchor="middle">0</text>
<text class="tk" transform="translate(162 264.6) scale(0.885 1)" text-anchor="middle">5</text>
<text class="tk" transform="translate(237.3 264.6) scale(0.885 1)" text-anchor="middle">10</text>
<text class="tk" transform="translate(312.6 264.6) scale(0.885 1)" text-anchor="middle">15</text>
<text class="tk" transform="translate(387.9 264.6) scale(0.885 1)" text-anchor="middle">20</text>
<text class="tk" transform="translate(463.2 264.6) scale(0.885 1)" text-anchor="middle">25</text>
<text class="tk" transform="translate(538.5 264.6) scale(0.885 1)" text-anchor="middle">30</text>
<text class="tk" transform="translate(613.8 264.6) scale(0.885 1)" text-anchor="middle">35</text>
<text class="tk" transform="translate(689.1 264.6) scale(0.885 1)" text-anchor="middle">40</text>
</g>
<g id="toplegend">
<line x1="159.2" y1="13.7" x2="195.2" y2="13.7" stroke="#000000" stroke-width="2.0"/>
<path d="M177.2 9.4L181.2 13.7L177.2 18L173.2 13.7Z" fill="none" stroke="#000000" stroke-width="1.4"/>
<text x="199.7" y="18.7">CK</text>
<line x1="259.3" y1="13.7" x2="295.2" y2="13.7" stroke="#5a5a5a" stroke-width="1.7"/>
<rect x="273.1" y="9.55" width="8.3" height="8.3" fill="none" stroke="#5a5a5a" stroke-width="1.25"/>
<text x="299.7" y="18.7">N</text>
<line x1="159.2" y1="29.5" x2="195.2" y2="29.5" stroke="#0a0a0a" stroke-width="2.0"/>
<path d="M177.2 25.6L181.2 33.6L173.2 33.6Z" fill="none" stroke="#0a0a0a" stroke-width="1.4"/>
<text x="199.7" y="34.5">NP</text>
<line x1="259.3" y1="29.5" x2="295.2" y2="29.5" stroke="#adadad" stroke-width="1.7"/>
<path d="M273.35 25.6L281.15 33.4M273.35 33.4L281.15 25.6" fill="none" stroke="#adadad" stroke-width="1.25"/>
<text x="299.7" y="34.5">SNP</text>
<line x1="159.2" y1="45.4" x2="195.2" y2="45.4" stroke="#8a8a8a" stroke-width="1.8"/>
<path d="M173.2 41.4L181.2 49.4M173.2 49.4L181.2 41.4M177.2 40.9L177.2 49.9" fill="none" stroke="#8a8a8a" stroke-width="1.25"/>
<text x="199.7" y="50.4">M</text>
<line x1="259.3" y1="45.4" x2="295.2" y2="45.4" stroke="#d6d6d6" stroke-width="1.7"/>
<circle cx="277.25" cy="45.4" r="4.1" fill="none" stroke="#d6d6d6" stroke-width="1.15"/>
<text x="299.7" y="50.4">MNP</text>
<line x1="159.2" y1="60.8" x2="205.2" y2="60.8" stroke="#111" stroke-width="1.8" stroke-dasharray="1.5 1.1"/>
<text x="210.6" y="65.8">N</text>
<line x1="259.1" y1="60.8" x2="304.8" y2="60.8" stroke="#111" stroke-width="1.9" stroke-dasharray="3.9 1.3"/>
<text x="310.2" y="65.8">NP</text>
<line x1="159.3" y1="76.6" x2="201.2" y2="76.6" stroke="#111" stroke-width="1.9" stroke-dasharray="5.2 3.97"/>
<text x="210.6" y="81.6">SNP</text>
<line x1="259.1" y1="76.6" x2="305.6" y2="76.6" stroke="#111" stroke-width="1.9" stroke-dasharray="5.2 3.8 1.6 3.7"/>
<text x="310.2" y="81.6">M</text>
<line x1="159.3" y1="92.2" x2="205.6" y2="92.2" stroke="#111" stroke-width="2.0" stroke-dasharray="10.3 4.1"/>
<text x="210.6" y="97.2">MNP</text>
</g>
<g id="bot">
<path d="M102.24 433.4C104.76 433.17 112.33 432 117.38 432C122.43 432 127.47 433.75 132.52 433.4C137.57 433.05 142.61 429.55 147.66 429.9C152.71 430.25 157.75 433.75 162.8 435.5C167.85 437.25 172.89 440.4 177.94 440.4C182.99 440.4 188.03 436.08 193.08 435.5C198.13 434.92 203.17 436.67 208.22 436.9C213.27 437.13 218.31 436.55 223.36 436.9C228.41 437.25 233.45 438.77 238.5 439C243.55 439.23 248.59 438.3 253.64 438.3C258.69 438.3 263.73 438.42 268.78 439C273.83 439.58 278.87 440.4 283.92 441.8C288.97 443.2 291.11 445.75 299.06 447.4C314.2 450.55 359.62 459.53 374.76 460.7C382.84 461.32 384.85 454.52 389.9 454.4C394.95 454.28 399.99 459.65 405.04 460C410.09 460.35 415.13 460.23 420.18 456.5C425.23 452.77 430.27 439.12 435.32 437.6C440.37 436.08 445.41 444.02 450.46 447.4C455.51 450.78 460.55 458.13 465.6 457.9C470.65 457.67 475.69 449.73 480.74 446C485.79 442.27 490.83 435.03 495.88 435.5C500.93 435.97 503.45 446.12 511.02 448.8C518.59 451.48 528.68 451.37 541.3 451.6C553.92 451.83 574.1 450.2 586.72 450.2C599.34 450.2 604.38 450.78 617 451.6C629.62 452.42 654.85 454.52 662.42 455.1" fill="none" stroke="#000000" stroke-width="1.7" stroke-linejoin="round"/>
<path d="M102.24 429.1L106.24 433.4L102.24 437.7L98.24 433.4Z" fill="none" stroke="#000000" stroke-width="1.4"/>
<path d="M117.38 427.7L121.38 432L117.38 436.3L113.38 432Z" fill="none" stroke="#000000" stroke-width="1.4"/>
<path d="M132.52 429.1L136.52 433.4L132.52 437.7L128.52 433.4Z" fill="none" stroke="#000000" stroke-width="1.4"/>
<path d="M147.66 425.6L151.66 429.9L147.66 434.2L143.66 429.9Z" fill="none" stroke="#000000" stroke-width="1.4"/>
<path d="M162.8 431.2L166.8 435.5L162.8 439.8L158.8 435.5Z" fill="none" stroke="#000000" stroke-width="1.4"/>
<path d="M177.94 436.1L181.94 440.4L177.94 444.7L173.94 440.4Z" fill="none" stroke="#000000" stroke-width="1.4"/>
<path d="M193.08 431.2L197.08 435.5L193.08 439.8L189.08 435.5Z" fill="none" stroke="#000000" stroke-width="1.4"/>
<path d="M208.22 432.6L212.22 436.9L208.22 441.2L204.22 436.9Z" fill="none" stroke="#000000" stroke-width="1.4"/>
<path d="M223.36 432.6L227.36 436.9L223.36 441.2L219.36 436.9Z" fill="none" stroke="#000000" stroke-width="1.4"/>
<path d="M238.5 434.7L242.5 439L238.5 443.3L234.5 439Z" fill="none" stroke="#000000" stroke-width="1.4"/>
<path d="M253.64 434L257.64 438.3L253.64 442.6L249.64 438.3Z" fill="none" stroke="#000000" stroke-width="1.4"/>
<path d="M268.78 434.7L272.78 439L268.78 443.3L264.78 439Z" fill="none" stroke="#000000" stroke-width="1.4"/>
<path d="M283.92 437.5L287.92 441.8L283.92 446.1L279.92 441.8Z" fill="none" stroke="#000000" stroke-width="1.4"/>
<path d="M299.06 443.1L303.06 447.4L299.06 451.7L295.06 447.4Z" fill="none" stroke="#000000" stroke-width="1.4"/>
<path d="M374.76 456.4L378.76 460.7L374.76 465L370.76 460.7Z" fill="none" stroke="#000000" stroke-width="1.4"/>
<path d="M389.9 450.1L393.9 454.4L389.9 458.7L385.9 454.4Z" fill="none" stroke="#000000" stroke-width="1.4"/>
<path d="M405.04 455.7L409.04 460L405.04 464.3L401.04 460Z" fill="none" stroke="#000000" stroke-width="1.4"/>
<path d="M420.18 452.2L424.18 456.5L420.18 460.8L416.18 456.5Z" fill="none" stroke="#000000" stroke-width="1.4"/>
<path d="M435.32 433.3L439.32 437.6L435.32 441.9L431.32 437.6Z" fill="none" stroke="#000000" stroke-width="1.4"/>
<path d="M450.46 443.1L454.46 447.4L450.46 451.7L446.46 447.4Z" fill="none" stroke="#000000" stroke-width="1.4"/>
<path d="M465.6 453.6L469.6 457.9L465.6 462.2L461.6 457.9Z" fill="none" stroke="#000000" stroke-width="1.4"/>
<path d="M480.74 441.7L484.74 446L480.74 450.3L476.74 446Z" fill="none" stroke="#000000" stroke-width="1.4"/>
<path d="M495.88 431.2L499.88 435.5L495.88 439.8L491.88 435.5Z" fill="none" stroke="#000000" stroke-width="1.4"/>
<path d="M511.02 444.5L515.02 448.8L511.02 453.1L507.02 448.8Z" fill="none" stroke="#000000" stroke-width="1.4"/>
<path d="M541.3 447.3L545.3 451.6L541.3 455.9L537.3 451.6Z" fill="none" stroke="#000000" stroke-width="1.4"/>
<path d="M586.72 445.9L590.72 450.2L586.72 454.5L582.72 450.2Z" fill="none" stroke="#000000" stroke-width="1.4"/>
<path d="M617 447.3L621 451.6L617 455.9L613 451.6Z" fill="none" stroke="#000000" stroke-width="1.4"/>
<path d="M662.42 450.8L666.42 455.1L662.42 459.4L658.42 455.1Z" fill="none" stroke="#000000" stroke-width="1.4"/>
<path d="M102.24 428.5C104.76 429.08 112.33 431.18 117.38 432C122.43 432.82 127.47 433.75 132.52 433.4C137.57 433.05 142.61 429.32 147.66 429.9C152.71 430.48 157.75 435.73 162.8 436.9C167.85 438.07 172.89 436.67 177.94 436.9C182.99 437.13 188.03 437.95 193.08 438.3C198.13 438.65 203.17 439.23 208.22 439C213.27 438.77 218.31 437.83 223.36 436.9C228.41 435.97 233.45 433.05 238.5 433.4C243.55 433.75 248.59 438.18 253.64 439C258.69 439.82 263.73 437.83 268.78 438.3C273.83 438.77 278.87 438.88 283.92 441.8C288.97 444.72 288.82 453.2 299.06 455.8C314.2 459.65 359.62 464.43 374.76 464.9C382.9 465.15 384.85 459.77 389.9 458.6C394.95 457.43 399.99 458.72 405.04 457.9C410.09 457.08 415.13 456.73 420.18 453.7C425.23 450.67 430.27 439.12 435.32 439.7C440.37 440.28 445.41 456.15 450.46 457.2C455.51 458.25 460.55 449.15 465.6 446C470.65 442.85 475.69 440.28 480.74 438.3C485.79 436.32 490.83 431.18 495.88 434.1C500.93 437.02 503.45 453.35 511.02 455.8C518.59 458.25 528.68 450.32 541.3 448.8C553.92 447.28 574.1 446.7 586.72 446.7C599.34 446.7 604.38 450.32 617 448.8C629.62 447.28 654.85 439.47 662.42 437.6" fill="none" stroke="#5a5a5a" stroke-width="1.45" stroke-linejoin="round"/>
<rect x="98.09" y="424.35" width="8.3" height="8.3" fill="none" stroke="#5a5a5a" stroke-width="1.25"/>
<rect x="113.23" y="427.85" width="8.3" height="8.3" fill="none" stroke="#5a5a5a" stroke-width="1.25"/>
<rect x="128.37" y="429.25" width="8.3" height="8.3" fill="none" stroke="#5a5a5a" stroke-width="1.25"/>
<rect x="143.51" y="425.75" width="8.3" height="8.3" fill="none" stroke="#5a5a5a" stroke-width="1.25"/>
<rect x="158.65" y="432.75" width="8.3" height="8.3" fill="none" stroke="#5a5a5a" stroke-width="1.25"/>
<rect x="173.79" y="432.75" width="8.3" height="8.3" fill="none" stroke="#5a5a5a" stroke-width="1.25"/>
<rect x="188.93" y="434.15" width="8.3" height="8.3" fill="none" stroke="#5a5a5a" stroke-width="1.25"/>
<rect x="204.07" y="434.85" width="8.3" height="8.3" fill="none" stroke="#5a5a5a" stroke-width="1.25"/>
<rect x="219.21" y="432.75" width="8.3" height="8.3" fill="none" stroke="#5a5a5a" stroke-width="1.25"/>
<rect x="234.35" y="429.25" width="8.3" height="8.3" fill="none" stroke="#5a5a5a" stroke-width="1.25"/>
<rect x="249.49" y="434.85" width="8.3" height="8.3" fill="none" stroke="#5a5a5a" stroke-width="1.25"/>
<rect x="264.63" y="434.15" width="8.3" height="8.3" fill="none" stroke="#5a5a5a" stroke-width="1.25"/>
<rect x="279.77" y="437.65" width="8.3" height="8.3" fill="none" stroke="#5a5a5a" stroke-width="1.25"/>
<rect x="294.91" y="451.65" width="8.3" height="8.3" fill="none" stroke="#5a5a5a" stroke-width="1.25"/>
<rect x="370.61" y="460.75" width="8.3" height="8.3" fill="none" stroke="#5a5a5a" stroke-width="1.25"/>
<rect x="385.75" y="454.45" width="8.3" height="8.3" fill="none" stroke="#5a5a5a" stroke-width="1.25"/>
<rect x="400.89" y="453.75" width="8.3" height="8.3" fill="none" stroke="#5a5a5a" stroke-width="1.25"/>
<rect x="416.03" y="449.55" width="8.3" height="8.3" fill="none" stroke="#5a5a5a" stroke-width="1.25"/>
<rect x="431.17" y="435.55" width="8.3" height="8.3" fill="none" stroke="#5a5a5a" stroke-width="1.25"/>
<rect x="446.31" y="453.05" width="8.3" height="8.3" fill="none" stroke="#5a5a5a" stroke-width="1.25"/>
<rect x="461.45" y="441.85" width="8.3" height="8.3" fill="none" stroke="#5a5a5a" stroke-width="1.25"/>
<rect x="476.59" y="434.15" width="8.3" height="8.3" fill="none" stroke="#5a5a5a" stroke-width="1.25"/>
<rect x="491.73" y="429.95" width="8.3" height="8.3" fill="none" stroke="#5a5a5a" stroke-width="1.25"/>
<rect x="506.87" y="451.65" width="8.3" height="8.3" fill="none" stroke="#5a5a5a" stroke-width="1.25"/>
<rect x="537.15" y="444.65" width="8.3" height="8.3" fill="none" stroke="#5a5a5a" stroke-width="1.25"/>
<rect x="582.57" y="442.55" width="8.3" height="8.3" fill="none" stroke="#5a5a5a" stroke-width="1.25"/>
<rect x="612.85" y="444.65" width="8.3" height="8.3" fill="none" stroke="#5a5a5a" stroke-width="1.25"/>
<rect x="658.27" y="433.45" width="8.3" height="8.3" fill="none" stroke="#5a5a5a" stroke-width="1.25"/>
<path d="M102.24 429.9C104.76 429.9 112.33 429.32 117.38 429.9C122.43 430.48 127.47 433.05 132.52 433.4C137.57 433.75 142.61 431.42 147.66 432C152.71 432.58 157.75 436.08 162.8 436.9C167.85 437.72 172.89 436.55 177.94 436.9C182.99 437.25 188.03 438.42 193.08 439C198.13 439.58 203.17 439.58 208.22 440.4C213.27 441.22 218.31 443.55 223.36 443.9C228.41 444.25 233.45 442.5 238.5 442.5C243.55 442.5 248.59 443.08 253.64 443.9C258.69 444.72 263.73 446.58 268.78 447.4C273.83 448.22 278.87 447.05 283.92 448.8C288.97 450.55 290.55 455.08 299.06 457.9C314.2 462.92 359.62 476.92 374.76 478.9C383.27 480.01 384.85 470.85 389.9 469.8C394.95 468.75 399.99 474.93 405.04 472.6C410.09 470.27 415.13 461.87 420.18 455.8C425.23 449.73 430.27 437.6 435.32 436.2C440.37 434.8 445.41 443.78 450.46 447.4C455.51 451.02 460.55 458.13 465.6 457.9C470.65 457.67 475.69 449.03 480.74 446C485.79 442.97 490.83 437.83 495.88 439.7C500.93 441.57 503.45 454.63 511.02 457.2C518.59 459.77 528.68 455.92 541.3 455.1C553.92 454.28 574.1 453.93 586.72 452.3C599.34 450.67 604.38 443.55 617 445.3C629.62 447.05 654.85 459.88 662.42 462.8" fill="none" stroke="#0a0a0a" stroke-width="1.7" stroke-linejoin="round"/>
<path d="M102.24 426L106.24 434L98.24 434Z" fill="none" stroke="#0a0a0a" stroke-width="1.4"/>
<path d="M117.38 426L121.38 434L113.38 434Z" fill="none" stroke="#0a0a0a" stroke-width="1.4"/>
<path d="M132.52 429.5L136.52 437.5L128.52 437.5Z" fill="none" stroke="#0a0a0a" stroke-width="1.4"/>
<path d="M147.66 428.1L151.66 436.1L143.66 436.1Z" fill="none" stroke="#0a0a0a" stroke-width="1.4"/>
<path d="M162.8 433L166.8 441L158.8 441Z" fill="none" stroke="#0a0a0a" stroke-width="1.4"/>
<path d="M177.94 433L181.94 441L173.94 441Z" fill="none" stroke="#0a0a0a" stroke-width="1.4"/>
<path d="M193.08 435.1L197.08 443.1L189.08 443.1Z" fill="none" stroke="#0a0a0a" stroke-width="1.4"/>
<path d="M208.22 436.5L212.22 444.5L204.22 444.5Z" fill="none" stroke="#0a0a0a" stroke-width="1.4"/>
<path d="M223.36 440L227.36 448L219.36 448Z" fill="none" stroke="#0a0a0a" stroke-width="1.4"/>
<path d="M238.5 438.6L242.5 446.6L234.5 446.6Z" fill="none" stroke="#0a0a0a" stroke-width="1.4"/>
<path d="M253.64 440L257.64 448L249.64 448Z" fill="none" stroke="#0a0a0a" stroke-width="1.4"/>
<path d="M268.78 443.5L272.78 451.5L264.78 451.5Z" fill="none" stroke="#0a0a0a" stroke-width="1.4"/>
<path d="M283.92 444.9L287.92 452.9L279.92 452.9Z" fill="none" stroke="#0a0a0a" stroke-width="1.4"/>
<path d="M299.06 454L303.06 462L295.06 462Z" fill="none" stroke="#0a0a0a" stroke-width="1.4"/>
<path d="M374.76 475L378.76 483L370.76 483Z" fill="none" stroke="#0a0a0a" stroke-width="1.4"/>
<path d="M389.9 465.9L393.9 473.9L385.9 473.9Z" fill="none" stroke="#0a0a0a" stroke-width="1.4"/>
<path d="M405.04 468.7L409.04 476.7L401.04 476.7Z" fill="none" stroke="#0a0a0a" stroke-width="1.4"/>
<path d="M420.18 451.9L424.18 459.9L416.18 459.9Z" fill="none" stroke="#0a0a0a" stroke-width="1.4"/>
<path d="M435.32 432.3L439.32 440.3L431.32 440.3Z" fill="none" stroke="#0a0a0a" stroke-width="1.4"/>
<path d="M450.46 443.5L454.46 451.5L446.46 451.5Z" fill="none" stroke="#0a0a0a" stroke-width="1.4"/>
<path d="M465.6 454L469.6 462L461.6 462Z" fill="none" stroke="#0a0a0a" stroke-width="1.4"/>
<path d="M480.74 442.1L484.74 450.1L476.74 450.1Z" fill="none" stroke="#0a0a0a" stroke-width="1.4"/>
<path d="M495.88 435.8L499.88 443.8L491.88 443.8Z" fill="none" stroke="#0a0a0a" stroke-width="1.4"/>
<path d="M511.02 453.3L515.02 461.3L507.02 461.3Z" fill="none" stroke="#0a0a0a" stroke-width="1.4"/>
<path d="M541.3 451.2L545.3 459.2L537.3 459.2Z" fill="none" stroke="#0a0a0a" stroke-width="1.4"/>
<path d="M586.72 448.4L590.72 456.4L582.72 456.4Z" fill="none" stroke="#0a0a0a" stroke-width="1.4"/>
<path d="M617 441.4L621 449.4L613 449.4Z" fill="none" stroke="#0a0a0a" stroke-width="1.4"/>
<path d="M662.42 458.9L666.42 466.9L658.42 466.9Z" fill="none" stroke="#0a0a0a" stroke-width="1.4"/>
<path d="M102.24 426.4C104.76 426.4 112.33 426.52 117.38 426.4C122.43 426.28 127.47 426.52 132.52 425.7C137.57 424.88 142.61 421.5 147.66 421.5C152.71 421.5 157.75 425.82 162.8 425.7C167.85 425.58 172.89 421.03 177.94 420.8C182.99 420.57 188.03 424.18 193.08 424.3C198.13 424.42 203.17 421.85 208.22 421.5C213.27 421.15 218.31 422.67 223.36 422.2C228.41 421.73 233.45 418.93 238.5 418.7C243.55 418.47 248.59 421.15 253.64 420.8C258.69 420.45 263.73 417.53 268.78 416.6C273.83 415.67 278.87 415.43 283.92 415.2C288.97 414.97 292.44 412.14 299.06 415.2C314.2 422.2 359.62 450.32 374.76 457.2C381.39 460.21 384.89 462.41 389.9 456.5C394.95 450.55 399.99 423.48 405.04 421.5C410.09 419.52 415.13 442.97 420.18 444.6C425.23 446.23 430.27 435.5 435.32 431.3C440.37 427.1 445.41 416.95 450.46 419.4C455.51 421.85 460.55 446.23 465.6 446C470.65 445.77 475.69 422.2 480.74 418C485.79 413.8 490.83 416.95 495.88 420.8C500.93 424.65 503.45 437.6 511.02 441.1C518.59 444.6 528.68 441.57 541.3 441.8C553.92 442.03 574.1 443.78 586.72 442.5C599.34 441.22 604.38 433.17 617 434.1C629.62 435.03 654.85 445.77 662.42 448.1" fill="none" stroke="#adadad" stroke-width="1.45" stroke-linejoin="round"/>
<path d="M97.84 422L106.64 430.8M97.84 430.8L106.64 422" fill="none" stroke="#adadad" stroke-width="1.25"/>
<path d="M112.98 422L121.78 430.8M112.98 430.8L121.78 422" fill="none" stroke="#adadad" stroke-width="1.25"/>
<path d="M128.12 421.3L136.92 430.1M128.12 430.1L136.92 421.3" fill="none" stroke="#adadad" stroke-width="1.25"/>
<path d="M143.26 417.1L152.06 425.9M143.26 425.9L152.06 417.1" fill="none" stroke="#adadad" stroke-width="1.25"/>
<path d="M158.4 421.3L167.2 430.1M158.4 430.1L167.2 421.3" fill="none" stroke="#adadad" stroke-width="1.25"/>
<path d="M173.54 416.4L182.34 425.2M173.54 425.2L182.34 416.4" fill="none" stroke="#adadad" stroke-width="1.25"/>
<path d="M188.68 419.9L197.48 428.7M188.68 428.7L197.48 419.9" fill="none" stroke="#adadad" stroke-width="1.25"/>
<path d="M203.82 417.1L212.62 425.9M203.82 425.9L212.62 417.1" fill="none" stroke="#adadad" stroke-width="1.25"/>
<path d="M218.96 417.8L227.76 426.6M218.96 426.6L227.76 417.8" fill="none" stroke="#adadad" stroke-width="1.25"/>
<path d="M234.1 414.3L242.9 423.1M234.1 423.1L242.9 414.3" fill="none" stroke="#adadad" stroke-width="1.25"/>
<path d="M249.24 416.4L258.04 425.2M249.24 425.2L258.04 416.4" fill="none" stroke="#adadad" stroke-width="1.25"/>
<path d="M264.38 412.2L273.18 421M264.38 421L273.18 412.2" fill="none" stroke="#adadad" stroke-width="1.25"/>
<path d="M279.52 410.8L288.32 419.6M279.52 419.6L288.32 410.8" fill="none" stroke="#adadad" stroke-width="1.25"/>
<path d="M294.66 410.8L303.46 419.6M294.66 419.6L303.46 410.8" fill="none" stroke="#adadad" stroke-width="1.25"/>
<path d="M370.36 452.8L379.16 461.6M370.36 461.6L379.16 452.8" fill="none" stroke="#adadad" stroke-width="1.25"/>
<path d="M385.5 452.1L394.3 460.9M385.5 460.9L394.3 452.1" fill="none" stroke="#adadad" stroke-width="1.25"/>
<path d="M400.64 417.1L409.44 425.9M400.64 425.9L409.44 417.1" fill="none" stroke="#adadad" stroke-width="1.25"/>
<path d="M415.78 440.2L424.58 449M415.78 449L424.58 440.2" fill="none" stroke="#adadad" stroke-width="1.25"/>
<path d="M430.92 426.9L439.72 435.7M430.92 435.7L439.72 426.9" fill="none" stroke="#adadad" stroke-width="1.25"/>
<path d="M446.06 415L454.86 423.8M446.06 423.8L454.86 415" fill="none" stroke="#adadad" stroke-width="1.25"/>
<path d="M461.2 441.6L470 450.4M461.2 450.4L470 441.6" fill="none" stroke="#adadad" stroke-width="1.25"/>
<path d="M476.34 413.6L485.14 422.4M476.34 422.4L485.14 413.6" fill="none" stroke="#adadad" stroke-width="1.25"/>
<path d="M491.48 416.4L500.28 425.2M491.48 425.2L500.28 416.4" fill="none" stroke="#adadad" stroke-width="1.25"/>
<path d="M506.62 436.7L515.42 445.5M506.62 445.5L515.42 436.7" fill="none" stroke="#adadad" stroke-width="1.25"/>
<path d="M536.9 437.4L545.7 446.2M536.9 446.2L545.7 437.4" fill="none" stroke="#adadad" stroke-width="1.25"/>
<path d="M582.32 438.1L591.12 446.9M582.32 446.9L591.12 438.1" fill="none" stroke="#adadad" stroke-width="1.25"/>
<path d="M612.6 429.7L621.4 438.5M612.6 438.5L621.4 429.7" fill="none" stroke="#adadad" stroke-width="1.25"/>
<path d="M658.02 443.7L666.82 452.5M658.02 452.5L666.82 443.7" fill="none" stroke="#adadad" stroke-width="1.25"/>
<path d="M102.24 431.3C104.76 431.07 112.33 430.13 117.38 429.9C122.43 429.67 127.47 430.25 132.52 429.9C137.57 429.55 142.61 427.8 147.66 427.8C152.71 427.8 157.75 429.55 162.8 429.9C167.85 430.25 172.89 430.13 177.94 429.9C182.99 429.67 188.03 429.78 193.08 428.5C198.13 427.22 203.17 422.55 208.22 422.2C213.27 421.85 218.31 426.05 223.36 426.4C228.41 426.75 233.45 423.72 238.5 424.3C243.55 424.88 248.59 429.78 253.64 429.9C258.69 430.02 263.73 425.93 268.78 425C273.83 424.07 278.87 424.42 283.92 424.3C288.97 424.18 291.5 424.01 299.06 424.3C314.2 424.88 359.62 428.15 374.76 427.8C382.82 427.61 384.85 424.3 389.9 422.2C394.95 420.1 399.99 417.3 405.04 415.2C410.09 413.1 415.33 416.77 420.18 409.6C425.23 402.13 430.27 382.3 435.32 370.4C440.37 358.5 445.41 340.3 450.46 338.2C455.51 336.1 460.55 354.18 465.6 357.8C470.65 361.42 475.69 357.68 480.74 359.9C485.79 362.12 490.83 373.2 495.88 371.1C500.93 369 503.45 348.58 511.02 347.3C518.59 346.02 528.68 363.05 541.3 363.4C553.92 363.75 574.1 353.37 586.72 349.4C599.34 345.43 604.38 340.42 617 339.6C629.62 338.78 654.85 343.68 662.42 344.5" fill="none" stroke="#8a8a8a" stroke-width="1.45" stroke-linejoin="round"/>
<path d="M97.84 426.9L106.64 435.7M97.84 435.7L106.64 426.9M102.24 426.3L102.24 436.3" fill="none" stroke="#8a8a8a" stroke-width="1.25"/>
<path d="M112.98 425.5L121.78 434.3M112.98 434.3L121.78 425.5M117.38 424.9L117.38 434.9" fill="none" stroke="#8a8a8a" stroke-width="1.25"/>
<path d="M128.12 425.5L136.92 434.3M128.12 434.3L136.92 425.5M132.52 424.9L132.52 434.9" fill="none" stroke="#8a8a8a" stroke-width="1.25"/>
<path d="M143.26 423.4L152.06 432.2M143.26 432.2L152.06 423.4M147.66 422.8L147.66 432.8" fill="none" stroke="#8a8a8a" stroke-width="1.25"/>
<path d="M158.4 425.5L167.2 434.3M158.4 434.3L167.2 425.5M162.8 424.9L162.8 434.9" fill="none" stroke="#8a8a8a" stroke-width="1.25"/>
<path d="M173.54 425.5L182.34 434.3M173.54 434.3L182.34 425.5M177.94 424.9L177.94 434.9" fill="none" stroke="#8a8a8a" stroke-width="1.25"/>
<path d="M188.68 424.1L197.48 432.9M188.68 432.9L197.48 424.1M193.08 423.5L193.08 433.5" fill="none" stroke="#8a8a8a" stroke-width="1.25"/>
<path d="M203.82 417.8L212.62 426.6M203.82 426.6L212.62 417.8M208.22 417.2L208.22 427.2" fill="none" stroke="#8a8a8a" stroke-width="1.25"/>
<path d="M218.96 422L227.76 430.8M218.96 430.8L227.76 422M223.36 421.4L223.36 431.4" fill="none" stroke="#8a8a8a" stroke-width="1.25"/>
<path d="M234.1 419.9L242.9 428.7M234.1 428.7L242.9 419.9M238.5 419.3L238.5 429.3" fill="none" stroke="#8a8a8a" stroke-width="1.25"/>
<path d="M249.24 425.5L258.04 434.3M249.24 434.3L258.04 425.5M253.64 424.9L253.64 434.9" fill="none" stroke="#8a8a8a" stroke-width="1.25"/>
<path d="M264.38 420.6L273.18 429.4M264.38 429.4L273.18 420.6M268.78 420L268.78 430" fill="none" stroke="#8a8a8a" stroke-width="1.25"/>
<path d="M279.52 419.9L288.32 428.7M279.52 428.7L288.32 419.9M283.92 419.3L283.92 429.3" fill="none" stroke="#8a8a8a" stroke-width="1.25"/>
<path d="M294.66 419.9L303.46 428.7M294.66 428.7L303.46 419.9M299.06 419.3L299.06 429.3" fill="none" stroke="#8a8a8a" stroke-width="1.25"/>
<path d="M370.36 423.4L379.16 432.2M370.36 432.2L379.16 423.4M374.76 422.8L374.76 432.8" fill="none" stroke="#8a8a8a" stroke-width="1.25"/>
<path d="M385.5 417.8L394.3 426.6M385.5 426.6L394.3 417.8M389.9 417.2L389.9 427.2" fill="none" stroke="#8a8a8a" stroke-width="1.25"/>
<path d="M400.64 410.8L409.44 419.6M400.64 419.6L409.44 410.8M405.04 410.2L405.04 420.2" fill="none" stroke="#8a8a8a" stroke-width="1.25"/>
<path d="M415.78 405.2L424.58 414M415.78 414L424.58 405.2M420.18 404.6L420.18 414.6" fill="none" stroke="#8a8a8a" stroke-width="1.25"/>
<path d="M430.92 366L439.72 374.8M430.92 374.8L439.72 366M435.32 365.4L435.32 375.4" fill="none" stroke="#8a8a8a" stroke-width="1.25"/>
<path d="M446.06 333.8L454.86 342.6M446.06 342.6L454.86 333.8M450.46 333.2L450.46 343.2" fill="none" stroke="#8a8a8a" stroke-width="1.25"/>
<path d="M461.2 353.4L470 362.2M461.2 362.2L470 353.4M465.6 352.8L465.6 362.8" fill="none" stroke="#8a8a8a" stroke-width="1.25"/>
<path d="M476.34 355.5L485.14 364.3M476.34 364.3L485.14 355.5M480.74 354.9L480.74 364.9" fill="none" stroke="#8a8a8a" stroke-width="1.25"/>
<path d="M491.48 366.7L500.28 375.5M491.48 375.5L500.28 366.7M495.88 366.1L495.88 376.1" fill="none" stroke="#8a8a8a" stroke-width="1.25"/>
<path d="M506.62 342.9L515.42 351.7M506.62 351.7L515.42 342.9M511.02 342.3L511.02 352.3" fill="none" stroke="#8a8a8a" stroke-width="1.25"/>
<path d="M536.9 359L545.7 367.8M536.9 367.8L545.7 359M541.3 358.4L541.3 368.4" fill="none" stroke="#8a8a8a" stroke-width="1.25"/>
<path d="M582.32 345L591.12 353.8M582.32 353.8L591.12 345M586.72 344.4L586.72 354.4" fill="none" stroke="#8a8a8a" stroke-width="1.25"/>
<path d="M612.6 335.2L621.4 344M612.6 344L621.4 335.2M617 334.6L617 344.6" fill="none" stroke="#8a8a8a" stroke-width="1.25"/>
<path d="M658.02 340.1L666.82 348.9M658.02 348.9L666.82 340.1M662.42 339.5L662.42 349.5" fill="none" stroke="#8a8a8a" stroke-width="1.25"/>
<path d="M102.24 434.1C104.76 433.98 112.33 433.28 117.38 433.4C122.43 433.52 127.47 434.68 132.52 434.8C137.57 434.92 142.61 434.33 147.66 434.1C152.71 433.87 157.75 433.52 162.8 433.4C167.85 433.28 172.89 433.63 177.94 433.4C182.99 433.17 188.03 432.35 193.08 432C198.13 431.65 203.17 432.23 208.22 431.3C213.27 430.37 218.31 426.63 223.36 426.4C228.41 426.17 233.45 428.97 238.5 429.9C243.55 430.83 248.59 432.58 253.64 432C258.69 431.42 263.73 427.68 268.78 426.4C273.83 425.12 278.87 424.42 283.92 424.3C288.97 424.18 291.47 425.93 299.06 425.7C314.2 425.23 359.62 423.25 374.76 421.5C382.95 420.55 384.85 416.72 389.9 415.2C394.95 413.68 399.99 414.62 405.04 412.4C410.09 410.18 415.13 410.07 420.18 401.9C425.23 393.73 430.27 370.75 435.32 363.4C440.24 356.23 445.41 357.8 450.46 357.8C455.51 357.8 460.55 361.77 465.6 363.4C470.65 365.03 475.69 365.85 480.74 367.6C485.79 369.35 490.83 374.95 495.88 373.9C500.93 372.85 503.45 364.33 511.02 361.3C518.59 358.27 528.68 358.73 541.3 355.7C553.92 352.67 574.1 344.73 586.72 343.1C599.34 341.47 604.38 346.95 617 345.9C629.62 344.85 654.85 338.32 662.42 336.8" fill="none" stroke="#d6d6d6" stroke-width="1.45" stroke-linejoin="round"/>
<circle cx="102.24" cy="434.1" r="4.1" fill="none" stroke="#d6d6d6" stroke-width="1.15"/>
<circle cx="117.38" cy="433.4" r="4.1" fill="none" stroke="#d6d6d6" stroke-width="1.15"/>
<circle cx="132.52" cy="434.8" r="4.1" fill="none" stroke="#d6d6d6" stroke-width="1.15"/>
<circle cx="147.66" cy="434.1" r="4.1" fill="none" stroke="#d6d6d6" stroke-width="1.15"/>
<circle cx="162.8" cy="433.4" r="4.1" fill="none" stroke="#d6d6d6" stroke-width="1.15"/>
<circle cx="177.94" cy="433.4" r="4.1" fill="none" stroke="#d6d6d6" stroke-width="1.15"/>
<circle cx="193.08" cy="432" r="4.1" fill="none" stroke="#d6d6d6" stroke-width="1.15"/>
<circle cx="208.22" cy="431.3" r="4.1" fill="none" stroke="#d6d6d6" stroke-width="1.15"/>
<circle cx="223.36" cy="426.4" r="4.1" fill="none" stroke="#d6d6d6" stroke-width="1.15"/>
<circle cx="238.5" cy="429.9" r="4.1" fill="none" stroke="#d6d6d6" stroke-width="1.15"/>
<circle cx="253.64" cy="432" r="4.1" fill="none" stroke="#d6d6d6" stroke-width="1.15"/>
<circle cx="268.78" cy="426.4" r="4.1" fill="none" stroke="#d6d6d6" stroke-width="1.15"/>
<circle cx="283.92" cy="424.3" r="4.1" fill="none" stroke="#d6d6d6" stroke-width="1.15"/>
<circle cx="299.06" cy="425.7" r="4.1" fill="none" stroke="#d6d6d6" stroke-width="1.15"/>
<circle cx="374.76" cy="421.5" r="4.1" fill="none" stroke="#d6d6d6" stroke-width="1.15"/>
<circle cx="389.9" cy="415.2" r="4.1" fill="none" stroke="#d6d6d6" stroke-width="1.15"/>
<circle cx="405.04" cy="412.4" r="4.1" fill="none" stroke="#d6d6d6" stroke-width="1.15"/>
<circle cx="420.18" cy="401.9" r="4.1" fill="none" stroke="#d6d6d6" stroke-width="1.15"/>
<circle cx="435.32" cy="363.4" r="4.1" fill="none" stroke="#d6d6d6" stroke-width="1.15"/>
<circle cx="450.46" cy="357.8" r="4.1" fill="none" stroke="#d6d6d6" stroke-width="1.15"/>
<circle cx="465.6" cy="363.4" r="4.1" fill="none" stroke="#d6d6d6" stroke-width="1.15"/>
<circle cx="480.74" cy="367.6" r="4.1" fill="none" stroke="#d6d6d6" stroke-width="1.15"/>
<circle cx="495.88" cy="373.9" r="4.1" fill="none" stroke="#d6d6d6" stroke-width="1.15"/>
<circle cx="511.02" cy="361.3" r="4.1" fill="none" stroke="#d6d6d6" stroke-width="1.15"/>
<circle cx="541.3" cy="355.7" r="4.1" fill="none" stroke="#d6d6d6" stroke-width="1.15"/>
<circle cx="586.72" cy="343.1" r="4.1" fill="none" stroke="#d6d6d6" stroke-width="1.15"/>
<circle cx="617" cy="345.9" r="4.1" fill="none" stroke="#d6d6d6" stroke-width="1.15"/>
<circle cx="662.42" cy="336.8" r="4.1" fill="none" stroke="#d6d6d6" stroke-width="1.15"/>
<line x1="102.24" y1="433.4" x2="662.42" y2="456.5" stroke="#0a0a0a" stroke-width="1.45"/>
<line x1="102.24" y1="449.85" x2="662.42" y2="337.85" stroke="#111" stroke-width="1.5" stroke-dasharray="5.6 3.9 1.6 3.8"/>
<line x1="87.3" y1="300.85" x2="87.3" y2="511" stroke="#4a4a4a" stroke-width="1.2"/>
<line x1="86.7" y1="510.45" x2="693.3" y2="510.45" stroke="#3c3c3c" stroke-width="1.15"/>
<line x1="87.3" y1="475.4" x2="93.2" y2="475.4" stroke="#4a4a4a" stroke-width="1.2"/>
<line x1="87.3" y1="440.6" x2="93.2" y2="440.6" stroke="#4a4a4a" stroke-width="1.2"/>
<line x1="87.3" y1="405.8" x2="93.2" y2="405.8" stroke="#4a4a4a" stroke-width="1.2"/>
<line x1="87.3" y1="371" x2="93.2" y2="371" stroke="#4a4a4a" stroke-width="1.2"/>
<line x1="87.3" y1="336.2" x2="93.2" y2="336.2" stroke="#4a4a4a" stroke-width="1.2"/>
<line x1="87.3" y1="301.4" x2="93.2" y2="301.4" stroke="#4a4a4a" stroke-width="1.2"/>
<line x1="102.24" y1="506" x2="102.24" y2="510.7" stroke="#4a4a4a" stroke-width="1.2"/>
<line x1="117.38" y1="506" x2="117.38" y2="510.7" stroke="#4a4a4a" stroke-width="1.2"/>
<line x1="132.52" y1="506" x2="132.52" y2="510.7" stroke="#4a4a4a" stroke-width="1.2"/>
<line x1="147.66" y1="506" x2="147.66" y2="510.7" stroke="#4a4a4a" stroke-width="1.2"/>
<line x1="162.8" y1="504" x2="162.8" y2="510.7" stroke="#4a4a4a" stroke-width="1.2"/>
<line x1="177.94" y1="506" x2="177.94" y2="510.7" stroke="#4a4a4a" stroke-width="1.2"/>
<line x1="193.08" y1="506" x2="193.08" y2="510.7" stroke="#4a4a4a" stroke-width="1.2"/>
<line x1="208.22" y1="506" x2="208.22" y2="510.7" stroke="#4a4a4a" stroke-width="1.2"/>
<line x1="223.36" y1="506" x2="223.36" y2="510.7" stroke="#4a4a4a" stroke-width="1.2"/>
<line x1="238.5" y1="504" x2="238.5" y2="510.7" stroke="#4a4a4a" stroke-width="1.2"/>
<line x1="253.64" y1="506" x2="253.64" y2="510.7" stroke="#4a4a4a" stroke-width="1.2"/>
<line x1="268.78" y1="506" x2="268.78" y2="510.7" stroke="#4a4a4a" stroke-width="1.2"/>
<line x1="283.92" y1="506" x2="283.92" y2="510.7" stroke="#4a4a4a" stroke-width="1.2"/>
<line x1="299.06" y1="506" x2="299.06" y2="510.7" stroke="#4a4a4a" stroke-width="1.2"/>
<line x1="314.2" y1="504" x2="314.2" y2="510.7" stroke="#4a4a4a" stroke-width="1.2"/>
<line x1="329.34" y1="506" x2="329.34" y2="510.7" stroke="#4a4a4a" stroke-width="1.2"/>
<line x1="344.48" y1="506" x2="344.48" y2="510.7" stroke="#4a4a4a" stroke-width="1.2"/>
<line x1="359.62" y1="506" x2="359.62" y2="510.7" stroke="#4a4a4a" stroke-width="1.2"/>
<line x1="374.76" y1="506" x2="374.76" y2="510.7" stroke="#4a4a4a" stroke-width="1.2"/>
<line x1="389.9" y1="504" x2="389.9" y2="510.7" stroke="#4a4a4a" stroke-width="1.2"/>
<line x1="405.04" y1="506" x2="405.04" y2="510.7" stroke="#4a4a4a" stroke-width="1.2"/>
<line x1="420.18" y1="506" x2="420.18" y2="510.7" stroke="#4a4a4a" stroke-width="1.2"/>
<line x1="435.32" y1="506" x2="435.32" y2="510.7" stroke="#4a4a4a" stroke-width="1.2"/>
<line x1="450.46" y1="506" x2="450.46" y2="510.7" stroke="#4a4a4a" stroke-width="1.2"/>
<line x1="465.6" y1="504" x2="465.6" y2="510.7" stroke="#4a4a4a" stroke-width="1.2"/>
<line x1="480.74" y1="506" x2="480.74" y2="510.7" stroke="#4a4a4a" stroke-width="1.2"/>
<line x1="495.88" y1="506" x2="495.88" y2="510.7" stroke="#4a4a4a" stroke-width="1.2"/>
<line x1="511.02" y1="506" x2="511.02" y2="510.7" stroke="#4a4a4a" stroke-width="1.2"/>
<line x1="526.16" y1="506" x2="526.16" y2="510.7" stroke="#4a4a4a" stroke-width="1.2"/>
<line x1="541.3" y1="504" x2="541.3" y2="510.7" stroke="#4a4a4a" stroke-width="1.2"/>
<line x1="556.44" y1="506" x2="556.44" y2="510.7" stroke="#4a4a4a" stroke-width="1.2"/>
<line x1="571.58" y1="506" x2="571.58" y2="510.7" stroke="#4a4a4a" stroke-width="1.2"/>
<line x1="586.72" y1="506" x2="586.72" y2="510.7" stroke="#4a4a4a" stroke-width="1.2"/>
<line x1="601.86" y1="506" x2="601.86" y2="510.7" stroke="#4a4a4a" stroke-width="1.2"/>
<line x1="617" y1="504" x2="617" y2="510.7" stroke="#4a4a4a" stroke-width="1.2"/>
<line x1="632.14" y1="506" x2="632.14" y2="510.7" stroke="#4a4a4a" stroke-width="1.2"/>
<line x1="647.28" y1="506" x2="647.28" y2="510.7" stroke="#4a4a4a" stroke-width="1.2"/>
<line x1="662.42" y1="506" x2="662.42" y2="510.7" stroke="#4a4a4a" stroke-width="1.2"/>
<line x1="677.56" y1="506" x2="677.56" y2="510.7" stroke="#4a4a4a" stroke-width="1.2"/>
<line x1="692.7" y1="504" x2="692.7" y2="510.7" stroke="#4a4a4a" stroke-width="1.2"/>
<text class="tk" transform="translate(76.5 515.9) scale(0.885 1)" text-anchor="end">50</text>
<text class="tk" transform="translate(76.5 481.1) scale(0.885 1)" text-anchor="end">100</text>
<text class="tk" transform="translate(76.5 446.3) scale(0.885 1)" text-anchor="end">150</text>
<text class="tk" transform="translate(76.5 411.5) scale(0.885 1)" text-anchor="end">200</text>
<text class="tk" transform="translate(76.5 376.7) scale(0.885 1)" text-anchor="end">250</text>
<text class="tk" transform="translate(76.5 341.9) scale(0.885 1)" text-anchor="end">300</text>
<text class="tk" transform="translate(76.5 307.1) scale(0.885 1)" text-anchor="end">350</text>
<text class="tk" transform="translate(87.1 535.1) scale(0.885 1)" text-anchor="middle">0</text>
<text class="tk" transform="translate(162.8 535.1) scale(0.885 1)" text-anchor="middle">5</text>
<text class="tk" transform="translate(238.5 535.1) scale(0.885 1)" text-anchor="middle">10</text>
<text class="tk" transform="translate(314.2 535.1) scale(0.885 1)" text-anchor="middle">15</text>
<text class="tk" transform="translate(389.9 535.1) scale(0.885 1)" text-anchor="middle">20</text>
<text class="tk" transform="translate(465.6 535.1) scale(0.885 1)" text-anchor="middle">25</text>
<text class="tk" transform="translate(541.3 535.1) scale(0.885 1)" text-anchor="middle">30</text>
<text class="tk" transform="translate(617 535.1) scale(0.885 1)" text-anchor="middle">35</text>
<text class="tk" transform="translate(692.7 535.1) scale(0.885 1)" text-anchor="middle">40</text>
</g>
<g id="botlegend">
<line x1="105" y1="310.7" x2="140.2" y2="310.7" stroke="#000000" stroke-width="2.0"/>
<path d="M122.6 306.4L126.6 310.7L122.6 315L118.6 310.7Z" fill="none" stroke="#000000" stroke-width="1.4"/>
<text x="145.2" y="315.7">CK</text>
<line x1="195" y1="310.7" x2="230" y2="310.7" stroke="#5a5a5a" stroke-width="1.7"/>
<rect x="208.35" y="306.55" width="8.3" height="8.3" fill="none" stroke="#5a5a5a" stroke-width="1.25"/>
<text x="235" y="315.7">N</text>
<line x1="105" y1="331.3" x2="140.2" y2="331.3" stroke="#0a0a0a" stroke-width="2.0"/>
<path d="M122.6 327.4L126.6 335.4L118.6 335.4Z" fill="none" stroke="#0a0a0a" stroke-width="1.4"/>
<text x="145.2" y="336.3">NP</text>
<line x1="195" y1="331.3" x2="230" y2="331.3" stroke="#adadad" stroke-width="1.7"/>
<path d="M208.6 327.4L216.4 335.2M208.6 335.2L216.4 327.4" fill="none" stroke="#adadad" stroke-width="1.25"/>
<text x="235" y="336.3">SNP</text>
<line x1="105" y1="351.7" x2="140.2" y2="351.7" stroke="#8a8a8a" stroke-width="1.8"/>
<path d="M118.6 347.7L126.6 355.7M118.6 355.7L126.6 347.7M122.6 347.2L122.6 356.2" fill="none" stroke="#8a8a8a" stroke-width="1.25"/>
<text x="145.2" y="356.7">M</text>
<line x1="195" y1="351.7" x2="230" y2="351.7" stroke="#d6d6d6" stroke-width="1.7"/>
<circle cx="212.5" cy="351.7" r="4.1" fill="none" stroke="#d6d6d6" stroke-width="1.15"/>
<text x="235" y="356.7">MNP</text>
<line x1="105" y1="372.2" x2="150.8" y2="372.2" stroke="#111" stroke-width="1.8"/>
<text x="155.4" y="377.2">CK</text>
<line x1="195" y1="372.2" x2="240.7" y2="372.2" stroke="#111" stroke-width="1.9" stroke-dasharray="5.2 3.8 1.6 3.7"/>
<text x="245.8" y="377.2">M</text>
</g>
<g id="titles">
<text class="cn" transform="translate(19.7 136.5) rotate(-90)" text-anchor="middle">土壤有效磷</text>
<text transform="translate(37.8 136.2) rotate(-90)" text-anchor="middle">Soil Olsen-P/(mg·kg<tspan class="sup" dy="-5">-1</tspan><tspan dy="5">)</tspan></text>
<text class="cn" transform="translate(15.7 400.5) rotate(-90)" text-anchor="middle">土壤速效钾</text>
<text transform="translate(33.2 400.5) rotate(-90)" text-anchor="middle">Soil available K/(mg·kg<tspan class="sup" dy="-5">-1</tspan><tspan dy="5">)</tspan></text>
<text class="xt" x="246.8" y="560.5"><tspan class="cn">试验持续时间</tspan>Duration of the experiment/a</text>
</g>
</svg>
</body>
</html>
